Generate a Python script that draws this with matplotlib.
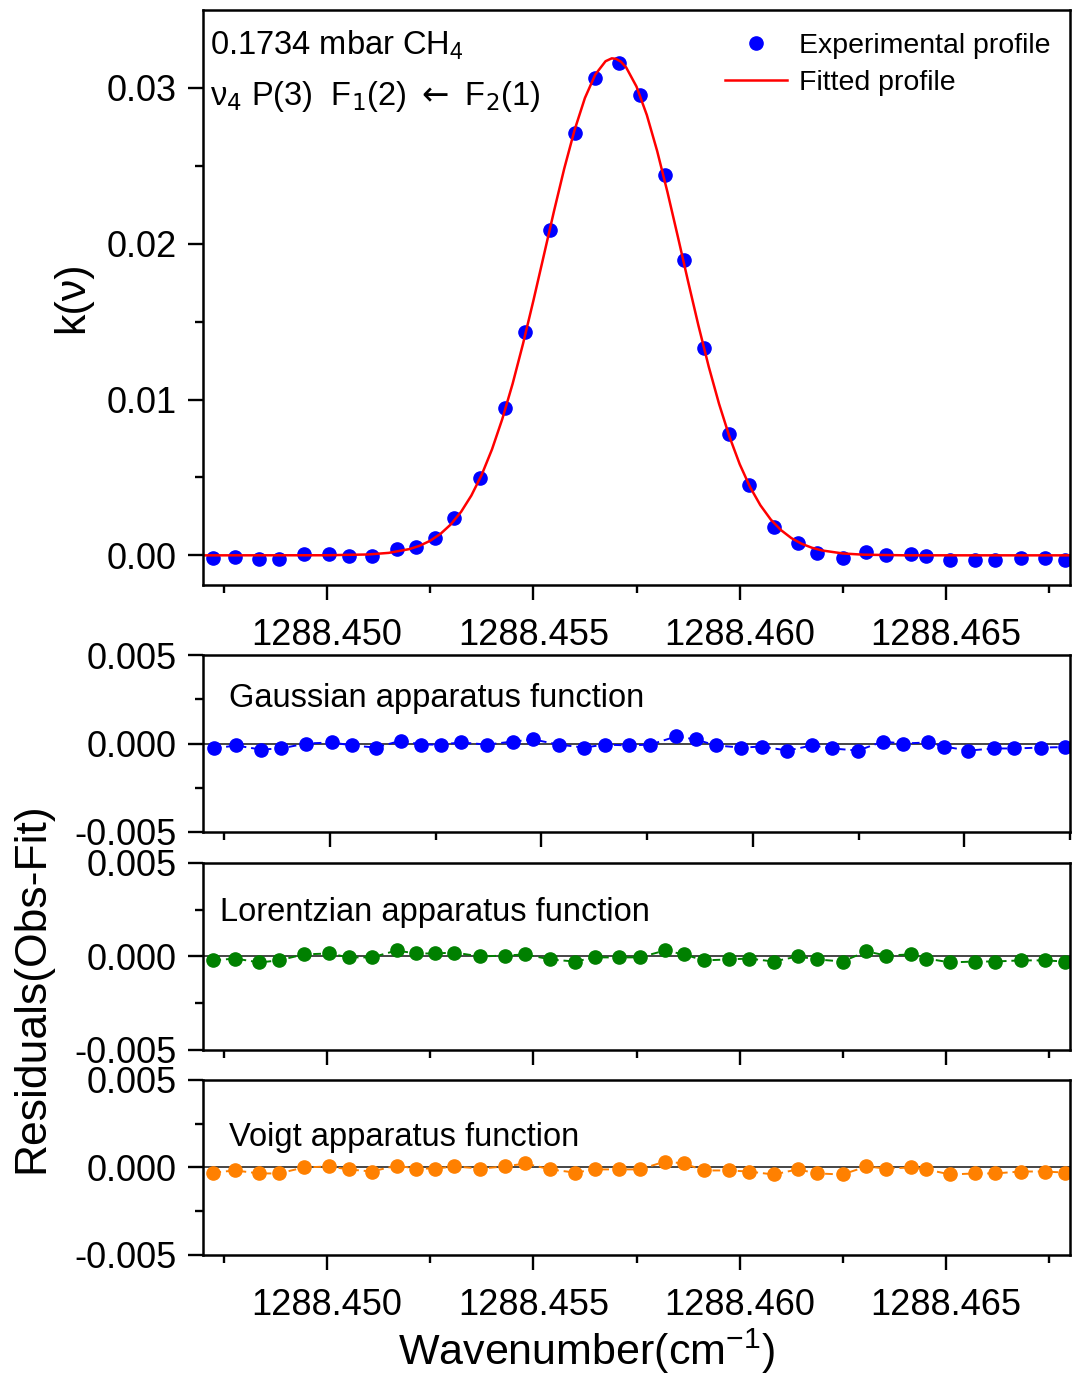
import matplotlib
matplotlib.use("Agg")
import matplotlib.pyplot as plt

plt.rcParams['font.family'] = ['Liberation Sans', 'DejaVu Sans']
plt.rcParams['mathtext.fontset'] = 'custom'
plt.rcParams['mathtext.rm'] = 'Liberation Sans'
plt.rcParams['mathtext.it'] = 'Liberation Sans:italic'
plt.rcParams['axes.linewidth'] = 1.8

# measured absorption profile (wavenumber in cm-1, k(nu))
wavenumber = [1288.44725, 1288.44778, 1288.44836, 1288.44884, 1288.44944, 1288.45005,
              1288.45053, 1288.45109, 1288.45169, 1288.45215, 1288.45263, 1288.45309,
              1288.45372, 1288.45432, 1288.45481, 1288.45541, 1288.45601, 1288.45650,
              1288.45708, 1288.45758, 1288.45819, 1288.45865, 1288.45913, 1288.45973,
              1288.46022, 1288.46082, 1288.46140, 1288.46188, 1288.46249, 1288.46307,
              1288.46355, 1288.46415, 1288.46452, 1288.46510, 1288.46570, 1288.46618,
              1288.46681, 1288.46739, 1288.46787]
k_obs = [-0.00019, -0.00013, -0.00026, -0.00026, 0.00006, 0.00006, -0.00006, -0.00006,
         0.00039, 0.00051, 0.00109, 0.00238, 0.00495, 0.00944, 0.01432, 0.02087,
         0.02710, 0.03064, 0.03160, 0.02954, 0.02441, 0.01895, 0.01329, 0.00777,
         0.00450, 0.00180, 0.00077, 0.00013, -0.00019, 0.00019, 0.00000, 0.00006,
         -0.00006, -0.00032, -0.00032, -0.00032, -0.00019, -0.00019, -0.00032]

# fitted profile
fit_x = [1288.4470, 1288.4500, 1288.4510, 1288.4515,
         1288.45200, 1288.45225, 1288.45250, 1288.45275, 1288.45300, 1288.45325,
         1288.45350, 1288.45375, 1288.45400, 1288.45425, 1288.45450, 1288.45475,
         1288.45500, 1288.45525, 1288.45550, 1288.45575, 1288.45600, 1288.45625,
         1288.45650, 1288.45675, 1288.45690, 1288.45700, 1288.45712, 1288.45725,
         1288.45750, 1288.45775,
         1288.45800, 1288.45825, 1288.45850, 1288.45875, 1288.45900, 1288.45925,
         1288.45950, 1288.45975, 1288.46000, 1288.46025, 1288.46050, 1288.46075,
         1288.46100, 1288.46125, 1288.46150, 1288.46175, 1288.46200,
         1288.4625, 1288.4630, 1288.4640, 1288.4680]
fit_y = [0.0, 0.000006, 0.000057, 0.000159,
         0.000402, 0.000619, 0.000933, 0.001375, 0.001981, 0.002789,
         0.003841, 0.005168, 0.006805, 0.008757, 0.011021, 0.013567,
         0.016323, 0.019194, 0.022078, 0.024828, 0.027300, 0.029354,
         0.030854, 0.031715, 0.031900, 0.031872, 0.031690, 0.031316,
         0.030088, 0.028263,
         0.025957, 0.023313, 0.020470, 0.017574, 0.014751, 0.012106,
         0.009717, 0.007627, 0.005850, 0.004386, 0.003218, 0.002306,
         0.001619, 0.001109, 0.000744, 0.000487, 0.000312,
         0.000120, 0.000042, 0.000002, 0.0]

# residuals (obs - fit) for the three apparatus functions
res_gauss = [-0.00028, -0.00011, -0.00034, -0.00028, 0.00000, 0.00006, -0.00011, -0.00023,
             0.00017, -0.00006, -0.00006, 0.00006, -0.00006, 0.00011, 0.00023, -0.00006,
             -0.00023, -0.00006, -0.00011, -0.00006, 0.00040, 0.00023, -0.00011, -0.00023,
             -0.00017, -0.00040, -0.00011, -0.00028, -0.00040, 0.00011, 0.00000, 0.00006,
             -0.00017, -0.00040, -0.00028, -0.00028, -0.00023, -0.00020, -0.00020]
res_lorentz = [-0.00021, -0.00011, -0.00032, -0.00021, 0.00011, 0.00016, -0.00005, -0.00005,
               0.00032, 0.00016, 0.00016, 0.00021, 0.00000, 0.00005, 0.00011, -0.00016,
               -0.00027, -0.00005, -0.00005, -0.00005, 0.00032, 0.00011, -0.00021, -0.00016,
               -0.00011, -0.00027, 0.00000, -0.00016, -0.00027, 0.00027, 0.00005, 0.00011,
               -0.00011, -0.00032, -0.00027, -0.00027, -0.00021, -0.00021, -0.00027]
res_voigt = [-0.00029, -0.00017, -0.00034, -0.00034, 0.00000, 0.00006, -0.00011, -0.00023,
             0.00011, -0.00006, -0.00006, 0.00006, -0.00006, 0.00006, 0.00023, -0.00011,
             -0.00029, -0.00011, -0.00011, -0.00011, 0.00034, 0.00023, -0.00017, -0.00017,
             -0.00023, -0.00040, -0.00011, -0.00034, -0.00040, 0.00006, -0.00006, 0.00000,
             -0.00011, -0.00040, -0.00034, -0.00034, -0.00023, -0.00023, -0.00029]

x_major = [1288.450, 1288.455, 1288.460, 1288.465]
x_minor = [1288.4475, 1288.4525, 1288.4575, 1288.4625, 1288.4675]
x_labels = ['1288.450', '1288.455', '1288.460', '1288.465']

fig = plt.figure(figsize=(10.73, 13.77), dpi=100)
left, width = 0.1892, 0.808
ax0 = fig.add_axes([left, 0.5752, width, 0.4175])
ax1 = fig.add_axes([left, 0.3958, width, 0.1285])
ax2 = fig.add_axes([left, 0.2375, width, 0.1358])
ax3 = fig.add_axes([left, 0.0886, width, 0.1271])

def style_ticks(ax):
    ax.tick_params(which='major', direction='out', length=11, width=1.7,
                   labelsize=26, pad=8, top=False, right=False)
    ax.tick_params(which='minor', direction='out', length=5.5, width=1.7,
                   top=False, right=False)

# ---- top panel: profile
ax0.plot(wavenumber, k_obs, 'o', color='#0000FF', markersize=9.5, label='Experimental profile')
ax0.plot(fit_x, fit_y, '-', color='#FF0000', lw=1.8, label='Fitted profile')
ax0.set_xlim(1288.447, 1288.468)
ax0.set_ylim(-0.0019, 0.035)
ax0.set_yticks([0.0, 0.01, 0.02, 0.03])
ax0.set_yticklabels(['0.00', '0.01', '0.02', '0.03'])
ax0.set_yticks([0.005, 0.015, 0.025], minor=True)
ax0.set_xticks(x_major)
ax0.set_xticklabels(x_labels)
ax0.set_xticks(x_minor, minor=True)
style_ticks(ax0)
ax0.tick_params(axis='x', pad=13)
ax0.set_ylabel('k(ν)', fontsize=31, labelpad=10)
ax0.text(0.008, 0.939, r'0.1734 mbar CH$_4$', transform=ax0.transAxes,
         fontsize=23.5, va='center', ha='left')
ax0.text(0.008, 0.850, r'ν$_4$ P(3)  F$_1$(2) $\leftarrow$ F$_2$(1)',
         transform=ax0.transAxes, fontsize=23.5, va='center', ha='left',
         math_fontfamily='dejavusans')
ax0.legend(loc='upper right', frameon=False, fontsize=20.5, handlelength=2.2,
           handletextpad=0.4, labelspacing=0.4, borderaxespad=0.3,
           bbox_to_anchor=(1.0, 0.995))

# ---- residual panels
panels = [(ax1, res_gauss, '#0000FF', 'Gaussian apparatus function', (1288.447, 1288.467), 0.03, 0.757),
          (ax2, res_lorentz, '#008000', 'Lorentzian apparatus function', (1288.447, 1288.468), 0.02, 0.735),
          (ax3, res_voigt, '#FF8000', 'Voigt apparatus function', (1288.447, 1288.468), 0.03, 0.67)]

for ax, res, col, name, xl, tx, ty in panels:
    ax.axhline(0.0, color='0.15', lw=1.2, zorder=1)
    ax.plot(wavenumber, res, 'o--', color=col, markersize=9.5, lw=1.4,
            dashes=(4, 2.5), zorder=2)
    ax.set_xlim(*xl)
    ax.set_ylim(-0.005, 0.005)
    ax.set_yticks([-0.005, 0.0, 0.005])
    ax.set_yticklabels(['-0.005', '0.000', '0.005'])
    ax.set_yticks([-0.0025, 0.0025], minor=True)
    ax.set_xticks(x_major)
    ax.set_xticks(x_minor, minor=True)
    style_ticks(ax)
    ax.text(tx, ty, name, transform=ax.transAxes, fontsize=23.5, va='center', ha='left')
    if ax is ax3:
        ax.set_xticklabels(x_labels)
        ax.tick_params(axis='x', pad=13)
    else:
        ax.set_xticklabels([])

ax3.set_xlabel(r'Wavenumber(cm$^{\mathregular{-1}}$)', fontsize=31, labelpad=2, x=0.442)
fig.text(0.03, 0.283, 'Residuals(Obs-Fit)', rotation=90, fontsize=32,
         ha='center', va='center')

fig.savefig('out.png', dpi=100)
